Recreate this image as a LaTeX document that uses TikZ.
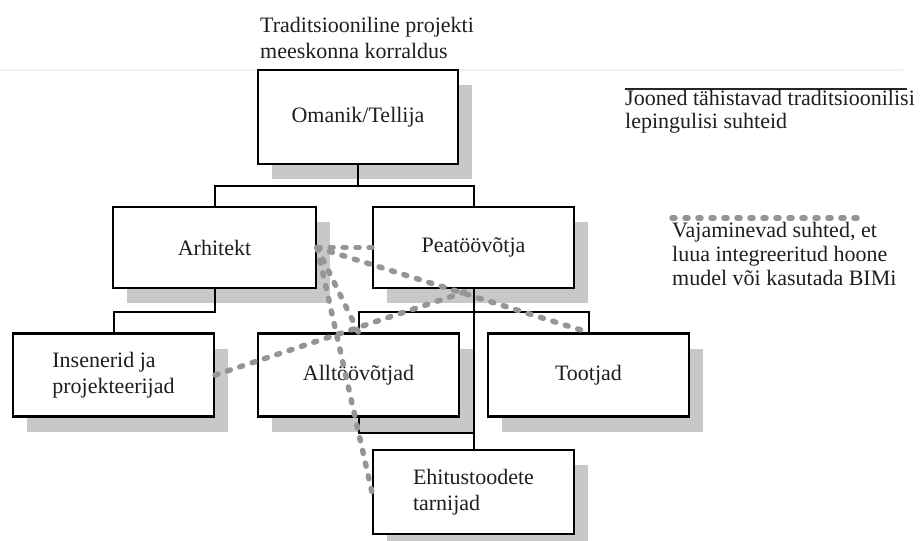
\documentclass[tikz,border=0pt]{standalone}
\usepackage{fontspec}
\setmainfont{Liberation Serif}
\usetikzlibrary{shadows,calc}
\definecolor{shadowgray}{HTML}{C8C8C8}
\definecolor{dotgray}{HTML}{959595}
\definecolor{faintgray}{HTML}{F2F2F2}
\definecolor{inkgray}{HTML}{1E1E1E}
\newcommand\fsnorm{\fontsize{22}{26}\selectfont}
\newcommand\fslegA{\fontsize{22}{23}\selectfont}
\newcommand\fslegB{\fontsize{22}{24}\selectfont}
\tikzset{
  box/.style={draw=black, line width=2.2pt, fill=white, minimum width=201pt,
    minimum height=83pt, inner sep=0pt, align=left, font=\fsnorm, text=inkgray,
    general shadow={fill=shadowgray, draw=none, shadow xshift=14pt, shadow yshift=-15pt}},
  link/.style={draw=black, line width=2pt},
  bim/.style={draw=dotgray, line width=5.5pt, line cap=round, dash pattern=on 3pt off 10pt},
  lbl/.style={inner sep=0pt, anchor=north west, align=left, font=\fsnorm, text=inkgray}
}
\begin{document}
\begin{tikzpicture}[x=1pt,y=-1pt]
\useasboundingbox (0,0) rectangle (924,541);
% faint scan line
\draw[faintgray, line width=1.2pt] (0,70) -- (903,70);
% boxes
\node[box, minimum width=200pt, minimum height=94pt] (om) at (358,117) {Omanik/Tellija};
\node[box, minimum width=203pt, minimum height=81pt] (ar) at (214.5,247.5) {Arhitekt};
\node[box, minimum height=81pt] (pe) at (473.5,247.5) {Peatöövõtja};
\node[box] (in) at (113.5,375) {Insenerid ja\\projekteerijad};
\node[box] (al) at (358.5,375) {Alltöövõtjad};
\node[box] (to) at (588.5,375) {Tootjad};
\node[box, minimum height=84pt] (eh) at (473.5,492) {Ehitustoodete\\tarnijad};
% traditional connectors
\coordinate (j1) at (358,186);
\draw[link] (om.south) -- (j1);
\draw[link] (ar.north) |- (j1) -| (pe.north);
\coordinate (j2) at (214.5,312);
\draw[link] (ar.south) -- (j2) -| (in.north);
\coordinate (j3) at (473.5,312);
\draw[link] (al.north) |- (j3) -| (to.north);
\draw[link] (pe.south) -- (eh.north);
\coordinate (j4) at (473.5,433);
\draw[link] (al.south) |- (j4);
% BIM relations
\draw[bim] (ar.east) -- (pe.west);
\draw[bim] (ar.east) -- (to.north);
\draw[bim] (in.east) -- (pe.south);
\draw[bim] (ar.east) -- (eh.west);
\draw[bim] (ar.east) -- (al.north);
% title
\node[lbl] (title) at (260,17) {Traditsiooniline projekti\\meeskonna korraldus};
% legend
\coordinate (la) at (625,89);
\coordinate (lb) at (907,89);
\draw[black!85, line width=1.6pt] (la) -- (lb);
\node[lbl, font=\fslegA] (lt) at (625,90.5) {Jooned tähistavad traditsioonilisi\\lepingulisi suhteid};
\coordinate (da) at (672,218);
\coordinate (db) at (860,218);
\draw[bim] (da) -- (db);
\node[lbl, font=\fslegB] (dt) at (672,222.5) {Vajaminevad suhted, et\\luua integreeritud hoone\\mudel või kasutada BIMi};
\end{tikzpicture}
\end{document}
